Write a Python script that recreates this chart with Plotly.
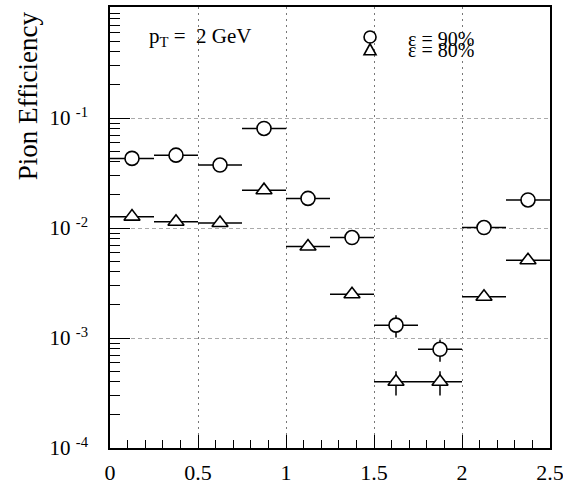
import plotly.graph_objects as go

# Data
eta_centers = [0.125, 0.375, 0.625, 0.875, 1.125, 1.375, 1.625, 1.875, 2.125, 2.375]
eta_halfwidth = [0.125] * 10
eff_90 = [0.043, 0.046, 0.0374, 0.0805, 0.0186, 0.0082, 0.00131, 0.00079, 0.0101, 0.018]
eff_90_err = [0, 0, 0, 0, 0, 0, 0.0003, 0.00018, 0, 0]
eff_80 = [0.0127, 0.0114, 0.0111, 0.0221, 0.0068, 0.0025, 0.0004, 0.0004, 0.00237, 0.0051]
eff_80_err = [0, 0, 0, 0, 0, 0, 0.0001, 0.0001, 0, 0]

y_tickvals = [1e-4, 1e-3, 1e-2, 1e-1]
y_ticktext = ["10 <sup>-4</sup>", "10 <sup>-3</sup>", "10 <sup>-2</sup>", "10 <sup>-1</sup>"]
x_tickvals = [0, 0.5, 1, 1.5, 2, 2.5]
x_ticktext = ["0", "0.5", "1", "1.5", "2", "2.5"]

FONT = "Liberation Serif"

fig = go.Figure()
for yvals, yerr, sym in [(eff_90, eff_90_err, "circle"), (eff_80, eff_80_err, "triangle-up")]:
    fig.add_trace(go.Scatter(
        x=eta_centers, y=yvals, mode="markers",
        marker=dict(symbol=sym, size=14, color="white", line=dict(color="black", width=1.6)),
        error_x=dict(type="data", array=eta_halfwidth, color="black", thickness=1.5, width=0),
        error_y=dict(type="data", array=yerr, color="black", thickness=1.5, width=0),
        showlegend=False, hoverinfo="skip",
    ))

minor_y = [k * 10 ** e for e in range(-4, 0) for k in range(2, 10)]

fig.update_layout(
    width=563, height=485,
    margin=dict(l=110, r=13, t=7, b=37),
    paper_bgcolor="white", plot_bgcolor="white",
    font=dict(family=FONT, color="black", size=20),
    xaxis=dict(
        range=[0, 2.5], tickvals=x_tickvals, ticktext=x_ticktext, automargin=False,
        ticks="inside", ticklen=13, tickwidth=1, tickcolor="black",
        showline=True, linecolor="black", linewidth=1.5, mirror=True,
        showgrid=True, gridcolor="#777", griddash="2px,4px", gridwidth=1,
        zeroline=False, ticklabelstandoff=4, ticklabeloverflow="allow",
        tickfont=dict(size=22, family=FONT),
        minor=dict(dtick=0.1, ticks="inside", ticklen=8, tickcolor="black", showgrid=False),
    ),
    yaxis=dict(
        type="log", range=[-4, 0.01], tickvals=y_tickvals, ticktext=y_ticktext, automargin=False,
        ticks="inside", ticklen=20, tickwidth=1, tickcolor="black",
        showline=True, linecolor="black", linewidth=1.5, mirror=True,
        showgrid=True, gridcolor="#aaa", griddash="4px,3px", gridwidth=1,
        zeroline=False, ticklabelstandoff=16, ticklabeloverflow="allow",
        tickfont=dict(size=21, family=FONT),
        minor=dict(tickvals=minor_y, ticks="inside", ticklen=10, tickcolor="black", showgrid=False),
    ),
)

# Y axis title (top-aligned, ROOT style)
fig.add_annotation(text="Pion Efficiency", xref="paper", yref="paper",
                   x=-0.186, y=0.798, xanchor="center", yanchor="middle",
                   textangle=-90, showarrow=False, font=dict(size=27, family=FONT))
# pT label
fig.add_annotation(text="p<sub>T</sub> =  2 GeV", xref="paper", yref="paper",
                   x=0.205, y=0.932, xanchor="center", yanchor="middle",
                   showarrow=False, font=dict(size=21, family=FONT))
# Legend texts (overlapping, as in reference)
fig.add_annotation(text="ε = 90%", xref="paper", yref="paper",
                   x=0.752, y=0.927, xanchor="center", yanchor="middle",
                   showarrow=False, font=dict(size=20, family=FONT))
fig.add_annotation(text="ε = 80%", xref="paper", yref="paper",
                   x=0.752, y=0.902, xanchor="center", yanchor="middle",
                   showarrow=False, font=dict(size=20, family=FONT))
# Legend keys
lx, ly_c, ly_t = 0.591, 0.932, 0.903
fig.add_shape(type="circle", xref="paper", yref="paper", xsizemode="pixel", ysizemode="pixel",
              xanchor=lx, yanchor=ly_c, x0=-6, x1=6, y0=-6, y1=6,
              line=dict(color="black", width=1.6), fillcolor="white")
fig.add_shape(type="path", xref="paper", yref="paper", xsizemode="pixel", ysizemode="pixel",
              xanchor=lx, yanchor=ly_t, path="M -6 -5 L 6 -5 L 0 6 Z",
              line=dict(color="black", width=1.6), fillcolor="white")

fig.write_html("out.html", config={"displayModeBar": False},
               post_script="document.body.style.margin='0';document.body.style.overflow='hidden';")
